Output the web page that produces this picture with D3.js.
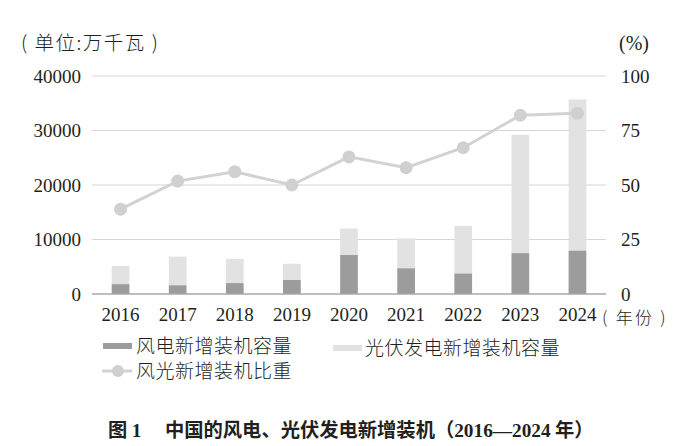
<!DOCTYPE html>
<html>
<head>
<meta charset="utf-8">
<script src="https://cdn.jsdelivr.net/npm/d3@7"></script>
<style>
  body { margin: 0; background: #fff; }
  text { fill: #231f20; }
</style>
</head>
<body>
<div id="chart"></div>
<script>
// data
var years = ["2016", "2017", "2018", "2019", "2020", "2021", "2022", "2023", "2024"];
var windAdded = [1800, 1600, 2000, 2570, 7150, 4720, 3760, 7500, 7950];
var solarAdded = [3350, 5250, 4450, 2980, 4850, 5480, 8740, 21700, 27750];
var shareValues = [38.9, 51.8, 56.1, 50.0, 62.9, 57.9, 67.1, 82.0, 82.9];
var leftTicks = [0, 10000, 20000, 30000, 40000];
var rightTicks = [0, 25, 50, 75, 100];

var width = 689, height = 446;
var serif = "'Liberation Serif', 'Times New Roman', 'DejaVu Serif', serif";
var cjk = "'Noto Sans CJK SC', sans-serif";

var svg = d3.select("#chart").append("svg")
    .attr("width", width)
    .attr("height", height);

var x = d3.scaleBand()
    .domain(years)
    .range([92, 606])
    .paddingInner(0.69)
    .paddingOuter(0.345);

var y = d3.scaleLinear().domain([0, 40000]).range([294, 76]);
var y2 = d3.scaleLinear().domain([0, 100]).range([294, 76]);

//gridlines
svg.append("g").selectAll("line")
    .data(leftTicks.slice(1))
    .enter().append("line")
    .attr("x1", 92).attr("x2", 606)
    .attr("y1", d => y(d)).attr("y2", d => y(d))
    .attr("stroke", "#d6d6d6")
    .attr("stroke-width", 1.2);

//left axis labels
var leftAxis = svg.append("g")
    .attr("transform", "translate(81,0)")
    .call(d3.axisLeft(y).tickValues(leftTicks).tickFormat(d3.format("d")).tickSize(0).tickPadding(0));
leftAxis.select(".domain").remove();
leftAxis.selectAll("text")
    .style("font-family", serif)
    .style("font-size", "19px")
    .attr("fill", "#231f20");

//right axis labels
var rightAxis = svg.append("g")
    .attr("transform", "translate(621,0)")
    .call(d3.axisRight(y2).tickValues(rightTicks).tickSize(0).tickPadding(0));
rightAxis.select(".domain").remove();
rightAxis.selectAll("text")
    .style("font-family", serif)
    .style("font-size", "19px")
    .attr("fill", "#231f20");

//stacked bars: wind at the bottom, solar on top
svg.append("g").selectAll("rect")
    .data(years)
    .enter().append("rect")
    .attr("x", d => x(d))
    .attr("width", x.bandwidth())
    .attr("y", (d, i) => y(windAdded[i] + solarAdded[i]))
    .attr("height", (d, i) => y(windAdded[i]) - y(windAdded[i] + solarAdded[i]))
    .attr("fill", "#e2e2e2");

svg.append("g").selectAll("rect")
    .data(years)
    .enter().append("rect")
    .attr("x", d => x(d))
    .attr("width", x.bandwidth())
    .attr("y", (d, i) => y(windAdded[i]))
    .attr("height", (d, i) => y(0) - y(windAdded[i]))
    .attr("fill", "#9c9c9c");

//baseline
svg.append("line")
    .attr("x1", 92).attr("x2", 606)
    .attr("y1", y(0)).attr("y2", y(0))
    .attr("stroke", "#a9a9a9")
    .attr("stroke-width", 1.5);

//share line
var line = d3.line()
    .x((d, i) => x(years[i]) + x.bandwidth() / 2)
    .y(d => y2(d));

svg.append("path")
    .datum(shareValues)
    .attr("d", line)
    .attr("fill", "none")
    .attr("stroke", "#d2d2d2")
    .attr("stroke-width", 3);

svg.append("g").selectAll("circle")
    .data(shareValues)
    .enter().append("circle")
    .attr("cx", (d, i) => x(years[i]) + x.bandwidth() / 2)
    .attr("cy", d => y2(d))
    .attr("r", 6.5)
    .attr("fill", "#d0d0d0");

//x labels
svg.append("g").selectAll("text")
    .data(years)
    .enter().append("text")
    .attr("x", d => x(d) + x.bandwidth() / 2)
    .attr("y", 321)
    .attr("text-anchor", "middle")
    .style("font-family", serif)
    .style("font-size", "19px")
    .text(d => d);

svg.append("text")
    .attr("x", 602).attr("y", 324)
    .style("font-family", cjk)
    .attr("font-weight", 300)
    .style("font-size", "17px")
    .style("letter-spacing", "2.3px")
    .text("( 年份 )");

//axis titles
svg.append("text")
    .attr("x", 21).attr("y", 50)
    .style("font-family", cjk)
    .attr("font-weight", 300)
    .style("font-size", "19.5px")
    .style("letter-spacing", "1.5px")
    .text("( 单位:万千瓦 )");

svg.append("text")
    .attr("x", 619).attr("y", 50)
    .style("font-family", serif)
    .style("font-size", "20px")
    .text("(%)");

//legend
svg.append("rect")
    .attr("x", 103).attr("y", 343).attr("width", 29).attr("height", 6)
    .attr("fill", "#9c9c9c");
svg.append("text")
    .attr("x", 136).attr("y", 353)
    .style("font-family", cjk)
    .attr("font-weight", 300)
    .style("font-size", "19px")
    .style("letter-spacing", "0.5px")
    .text("风电新增装机容量");

svg.append("rect")
    .attr("x", 333).attr("y", 345).attr("width", 29).attr("height", 6)
    .attr("fill", "#e2e2e2");
svg.append("text")
    .attr("x", 365).attr("y", 355)
    .style("font-family", cjk)
    .attr("font-weight", 300)
    .style("font-size", "19px")
    .style("letter-spacing", "0.5px")
    .text("光伏发电新增装机容量");

svg.append("line")
    .attr("x1", 102).attr("x2", 132)
    .attr("y1", 371).attr("y2", 371)
    .attr("stroke", "#d2d2d2")
    .attr("stroke-width", 3);
svg.append("circle")
    .attr("cx", 118).attr("cy", 371).attr("r", 6)
    .attr("fill", "#d0d0d0");
svg.append("text")
    .attr("x", 136).attr("y", 378)
    .style("font-family", cjk)
    .attr("font-weight", 300)
    .style("font-size", "19px")
    .style("letter-spacing", "0.5px")
    .text("风光新增装机比重");

//figure caption
var cap = svg.append("text")
    .attr("x", 108).attr("y", 437)
    .style("font-family", cjk)
    .attr("font-weight", 700)
    .style("font-size", "19.3px");
cap.append("tspan").text("图 ");
cap.append("tspan").style("font-family", serif).text("1");
cap.append("tspan").text("　 中国的风电、光伏发电新增装机（");
cap.append("tspan").style("font-family", serif).text("2016—2024");
cap.append("tspan").text(" 年）");
</script>
</body>
</html>
